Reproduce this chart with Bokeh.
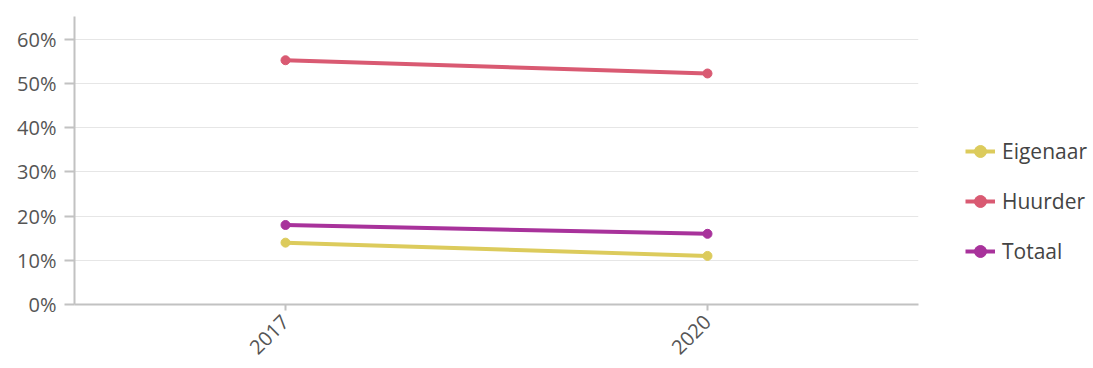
import math
from bokeh.plotting import figure
from bokeh.models import Legend, LegendItem, NumeralTickFormatter, FactorRange, FixedTicker
from bokeh.embed import file_html
from bokeh.resources import INLINE

years = ["2017", "2020"]
eigenaar = [0.14, 0.11]
huurder = [0.553, 0.523]
totaal = [0.18, 0.16]
series = [("Eigenaar", eigenaar, "#dccb5c"), ("Huurder", huurder, "#d95a72"), ("Totaal", totaal, "#a8329b")]

FONT = "Open Sans"

p = figure(x_range=FactorRange(*years, range_padding=0), y_range=(0, 0.652),
           frame_width=844, frame_height=288, output_backend="svg", toolbar_location=None,
           min_border_left=74, min_border_top=16, min_border_bottom=40, min_border_right=0)
p.outline_line_color = None

items = []
for name, vals, col in series:
    r1 = p.line(years, vals, line_color=col, line_width=4)
    r2 = p.scatter(years, vals, size=9, fill_color=col, line_color=col)
    items.append(LegendItem(label=name, renderers=[r1, r2]))

legend = Legend(items=items, location=(47, 38), border_line_color=None, background_fill_alpha=0,
                glyph_width=30, glyph_height=30, label_height=30, spacing=20, padding=0, margin=0,
                label_standoff=7, label_text_font=FONT, label_text_font_size="21px",
                label_text_color="#444444")
p.add_layout(legend, "right")

p.yaxis.ticker = FixedTicker(ticks=[0, 0.1, 0.2, 0.3, 0.4, 0.5, 0.6])
p.yaxis.formatter = NumeralTickFormatter(format="0%")
p.xgrid.grid_line_color = None
p.ygrid.grid_line_color = "#e6e6e6"
p.ygrid.grid_line_width = 1

for ax in (p.xaxis, p.yaxis):
    ax.axis_line_color = "#c2c2c2"
    ax.axis_line_width = 2
    ax.major_tick_line_color = "#c2c2c2"
    ax.major_tick_line_width = 2
    ax.minor_tick_line_color = None
    ax.major_label_text_font = FONT
    ax.major_label_text_font_size = "20px"
    ax.major_label_text_color = "#555555"
p.yaxis.major_tick_in = 0
p.yaxis.major_tick_out = 10
p.yaxis.major_label_standoff = 8
p.xaxis.major_tick_in = 0
p.xaxis.major_tick_out = 6
p.xaxis.major_label_standoff = 8
p.xaxis.major_label_orientation = math.pi / 4

open("out.html", "w").write(file_html(p, INLINE))
